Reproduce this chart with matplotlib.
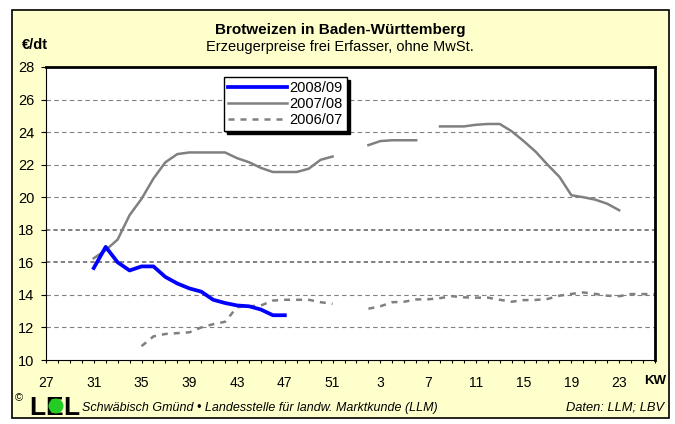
import numpy as np
import matplotlib
matplotlib.use("Agg")
import matplotlib.pyplot as plt
from matplotlib.patches import Rectangle, Ellipse
from matplotlib.ticker import MultipleLocator, FixedLocator

plt.rcParams['font.family'] = ['Liberation Sans', 'DejaVu Sans']

nan = np.nan

# Kalenderwochen: KW 27 bis KW 26 des Folgejahres
weeks = list(range(27, 53)) + list(range(1, 27))

# Preise in EUR/dt je Woche (nan = keine Notierung)
s_2008 = [nan, nan, nan, nan,
          15.65, 16.95, 16.0, 15.5, 15.75, 15.75, 15.1, 14.7, 14.4, 14.2,
          13.7, 13.5, 13.35, 13.3, 13.1, 12.75, 12.75] + [nan] * 31

s_2007 = [nan, nan, nan, nan,
          16.25, 16.75, 17.4, 18.9, 19.9, 21.15, 22.15, 22.65, 22.75, 22.75,
          22.75, 22.75, 22.4, 22.15, 21.8, 21.55, 21.55, 21.55, 21.75, 22.3,
          22.5,
          nan, nan,
          23.2, 23.45, 23.5, 23.5, 23.5,
          nan,
          24.35, 24.35, 24.35, 24.45, 24.5, 24.5, 24.05, 23.45, 22.8, 22.0,
          21.25, 20.12, 20.0, 19.85, 19.6, 19.2,
          nan, nan, nan]

s_2006 = [nan] * 8 + [
          10.85, 11.45, 11.6, 11.65, 11.7, 12.0, 12.2, 12.35, 13.25, 13.3,
          13.35, 13.65, 13.7, 13.7, 13.7, 13.55, 13.45,
          nan, nan,
          13.15, 13.3, 13.55, 13.58, 13.72, 13.73, 13.8, 13.92, 13.85, 13.83,
          13.83, 13.7, 13.58, 13.68, 13.69, 13.75, 13.95, 14.06, 14.15, 14.06,
          13.95, 13.92, 14.05, 14.05, 14.05]

labels = ["2008/09", "2007/08", "2006/07"]

W, H = 675, 424
fig = plt.figure(figsize=(W / 100, H / 100), dpi=100)
fig.patch.set_facecolor("white")

# gelber Rahmen
fig.patches.append(Rectangle((12 / W, 6 / H), 657 / W, 408 / H, transform=fig.transFigure,
                             facecolor="#FFFFCC", edgecolor="black", lw=1.2, zorder=-5))

ax = fig.add_axes([46 / W, 1 - 360 / H, 609 / W, 293 / H])
ax.set_zorder(2)
ax.set_facecolor("white")

x = np.arange(len(weeks))

# Gitterlinien
for v in range(12, 28, 2):
    thick = v in (16, 18)
    ax.axhline(v, color="#808080", lw=1.4 if thick else 0.8,
               ls=(0, (2.2, 1.6)) if thick else (0, (4, 3)), zorder=1)

ax.plot(x, s_2006, color="#808080", lw=1.8, ls=(0, (2.4, 2.4)), label=labels[2], zorder=2)
ax.plot(x, s_2007, color="#808080", lw=1.8, label=labels[1], zorder=3)
ax.plot(x, s_2008, color="#0000FF", lw=2.7, label=labels[0], zorder=4)

ax.set_xlim(0, 51)
ax.set_ylim(10, 28)
ax.yaxis.set_major_locator(MultipleLocator(2))
ax.xaxis.set_major_locator(FixedLocator(x[::4]))
ax.xaxis.set_minor_locator(MultipleLocator(1))
ax.set_xticklabels([str(w) for w in weeks[::4]])

ax.tick_params(axis="y", direction="out", length=3.5, width=0.8, pad=5, labelsize=10.5)
ax.tick_params(axis="x", which="both", direction="out", length=2.5, width=0.8, pad=9, labelsize=10)

for side in ("top", "right"):
    ax.spines[side].set_linewidth(2)
for side in ("left", "bottom"):
    ax.spines[side].set_linewidth(0.8)

h, l = ax.get_legend_handles_labels()
order = [2, 1, 0]
leg = ax.legend([h[i] for i in order], [l[i] for i in order], loc="upper left",
                bbox_to_anchor=((224 - 46) / 609, (360 - 77) / 293), borderaxespad=0,
                fancybox=False, edgecolor="black", framealpha=1, fontsize=10.5,
                handlelength=4.0, handletextpad=0.2, borderpad=0.3, labelspacing=0.12,
                shadow={"color": "black", "alpha": 1})
leg.get_frame().set_linewidth(1)

# Texte
fig.text(340 / W, 1 - 30 / H, "Brotweizen in Baden-Württemberg", ha="center", va="center",
         fontsize=11, fontweight="bold")
fig.text(340 / W, 1 - 47 / H, "Erzeugerpreise frei Erfasser, ohne MwSt.", ha="center",
         va="center", fontsize=10.5)
fig.text(22 / W, 1 - 45 / H, "€/dt", ha="left", va="center", fontsize=10.5, fontweight="bold")
fig.text(644 / W, 1 - 381 / H, "KW", ha="left", va="center", fontsize=9.5, fontweight="bold")

# Logo
fig.text(15 / W, 1 - 398 / H, "©", ha="left", va="center", fontsize=8)
fig.text(29 / W, 1 - 408 / H, "L", ha="left", va="center", fontsize=19, fontweight="bold")
fig.text(45 / W, 1 - 408 / H, "E", ha="left", va="center", fontsize=19, fontweight="bold")
fig.patches.append(Ellipse((56 / W, 1 - 406 / H), 15 / W, 15 / H, transform=fig.transFigure,
                           facecolor="#22CC22", edgecolor="none", zorder=5))
fig.text(63 / W, 1 - 408 / H, "L", ha="left", va="center", fontsize=19, fontweight="bold")
fig.text(82 / W, 1 - 408 / H, "Schwäbisch Gmünd • Landesstelle für landw. Marktkunde (LLM)",
         ha="left", va="center", fontsize=9, fontstyle="italic")
fig.text(664 / W, 1 - 408 / H, "Daten: LLM; LBV", ha="right", va="center", fontsize=9.3,
         fontstyle="italic")

fig.savefig("out.png", dpi=100)
